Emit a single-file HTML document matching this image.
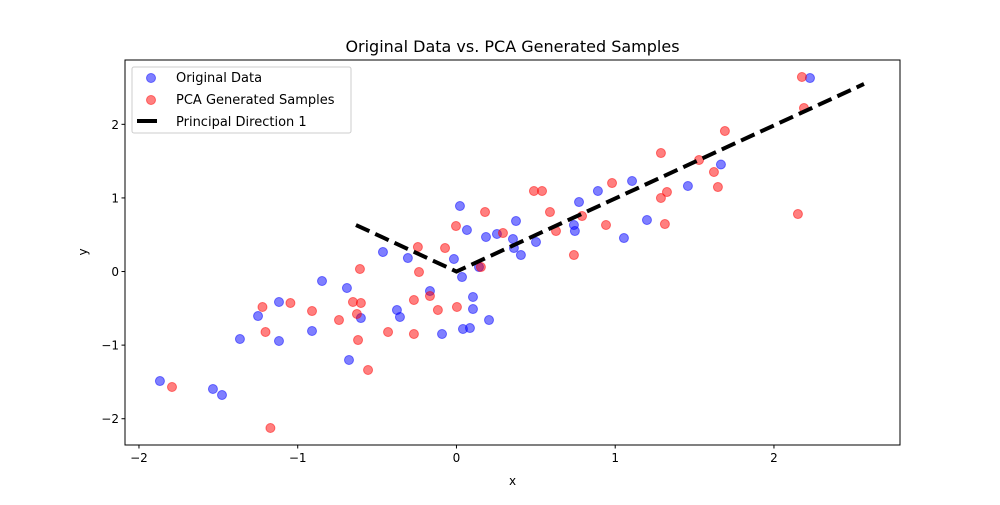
<!DOCTYPE html>
<html><head><meta charset="utf-8"><style>
body{margin:0;background:#fff}
svg text{font-family:"DejaVu Sans","Liberation Sans",sans-serif}
</style></head><body>
<svg id="chart" width="1000" height="500" xmlns="http://www.w3.org/2000/svg"></svg>
<script>
const origX=[-1.868,-1.534,-1.477,-1.364,-1.250,-1.118,-1.118,-0.910,-0.847,-0.690,-0.677,-0.602,-0.463,-0.375,-0.356,-0.306,-0.167,-0.091,-0.016,0.022,0.035,0.041,0.066,0.085,0.104,0.104,0.142,0.186,0.205,0.255,0.356,0.362,0.375,0.406,0.501,0.740,0.746,0.772,0.891,1.055,1.106,1.200,1.458,1.666,2.227];
const origY=[-1.488,-1.596,-1.678,-0.917,-0.605,-0.414,-0.944,-0.808,-0.129,-0.224,-1.202,-0.632,0.265,-0.523,-0.618,0.183,-0.265,-0.849,0.170,0.890,-0.075,-0.781,0.564,-0.768,-0.346,-0.510,0.061,0.469,-0.659,0.510,0.442,0.319,0.686,0.224,0.401,0.632,0.550,0.944,1.094,0.455,1.230,0.700,1.162,1.454,2.629];
const genX=[-1.792,-1.222,-1.203,-1.172,-1.046,-0.910,-0.740,-0.652,-0.627,-0.620,-0.608,-0.602,-0.557,-0.431,-0.268,-0.268,-0.243,-0.236,-0.167,-0.117,-0.072,-0.003,0.003,0.180,0.154,0.293,0.488,0.539,0.589,0.627,0.740,0.791,0.942,0.980,1.288,1.313,1.288,1.326,1.528,1.622,1.647,1.691,2.151,2.176,2.189];
const genY=[-1.569,-0.482,-0.822,-2.126,-0.428,-0.537,-0.659,-0.414,-0.577,-0.931,0.034,-0.428,-1.338,-0.822,-0.849,-0.387,0.333,-0.007,-0.333,-0.523,0.319,0.618,-0.482,0.808,0.061,0.523,1.094,1.094,0.808,0.550,0.224,0.754,0.632,1.202,1.610,0.645,0.999,1.080,1.515,1.352,1.148,1.909,0.781,2.643,2.221];
const dirX=[-0.633,0,2.567];
const dirY=[0.632,0,2.548];
const xTicks=[-2,-1,0,1,2];
const yTicks=[-2,-1,0,1,2];
const L=125,R=900,T=60,B=445,X0=-2.088,X1=2.794,Y0=-2.357,Y1=2.874;
const sx=v=>L+(v-X0)/(X1-X0)*(R-L), sy=v=>B-(v-Y0)/(Y1-Y0)*(B-T);
const svg=document.getElementById('chart'),NS='http://www.w3.org/2000/svg';
function mk(t,a,p){const e=document.createElementNS(NS,t);for(const k in a)e.setAttribute(k,a[k]);(p||svg).appendChild(e);return e;}
function fmt(v){return v<0?'\u2212'+(-v):''+v;}
function dot(x,y,col,p){return mk('circle',{cx:x,cy:y,r:4.5,fill:col,'fill-opacity':0.5,stroke:col,'stroke-opacity':0.5,'stroke-width':1},p);}
let t=mk('text',{x:512.5,y:52,'text-anchor':'middle','font-size':16});t.textContent='Original Data vs. PCA Generated Samples';


origX.forEach((v,i)=>{const c=dot(sx(v),sy(origY[i]),'#0000ff');

});
genX.forEach((v,i)=>{const c=dot(sx(v),sy(genY[i]),'#ff0000');

});
let ln=mk('polyline',{points:dirX.map((v,i)=>sx(v)+','+sy(dirY[i])).join(' '),fill:'none',stroke:'#000','stroke-width':4,'stroke-dasharray':'14.8,6.4'});


let fr=mk('rect',{x:L,y:T,width:R-L,height:B-T,fill:'none',stroke:'#000','stroke-width':1});


xTicks.forEach(v=>{const x=sx(v);mk('line',{x1:x,x2:x,y1:B,y2:B+3.5,stroke:'#000'});
const tx=mk('text',{x:x,y:B+17,'text-anchor':'middle','font-size':12});tx.textContent=fmt(v);

});
yTicks.forEach(v=>{const y=sy(v);mk('line',{x1:L-3.5,x2:L,y1:y,y2:y,stroke:'#000'});
const tx=mk('text',{x:L-6,y:y+4.5,'text-anchor':'end','font-size':12});tx.textContent=fmt(v);

});
t=mk('text',{x:512.5,y:485,'text-anchor':'middle','font-size':12});t.textContent='x';


t=mk('text',{x:0,y:0,'text-anchor':'middle','font-size':12,transform:'translate(87,252) rotate(-90)'});t.textContent='y';


const g=mk('g',{});


mk('rect',{x:132,y:67,width:219,height:66,rx:2,fill:'#fff','fill-opacity':0.8,stroke:'#ccc'},g);
dot(151,78,'#0000ff',g);
dot(151,100,'#ff0000',g);
mk('line',{x1:137,x2:157,y1:121,y2:121,stroke:'#000','stroke-width':4},g);
[['Original Data',82],['PCA Generated Samples',104],['Principal Direction 1',126]].forEach(a=>{const e=mk('text',{x:176,y:a[1],'font-size':13},g);e.textContent=a[0];

});
</script>
</body></html>
